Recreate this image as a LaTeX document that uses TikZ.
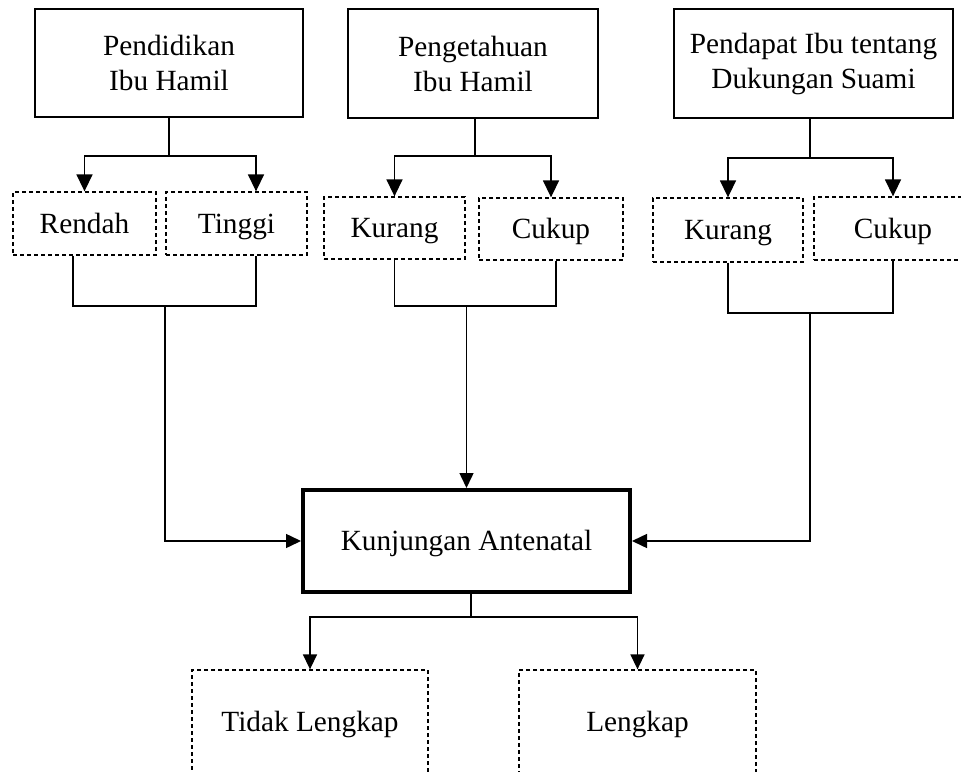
\documentclass[tikz,border=0pt]{standalone}
\usepackage{fontspec}
\setmainfont{Liberation Serif}
\usetikzlibrary{arrows.meta}
\begin{document}
\begin{tikzpicture}[x=1pt,y=-1pt,
  every node/.style={font=\fontsize{29.3}{35}\selectfont, align=center, inner sep=0pt},
  solidbox/.style={draw, line width=1.5pt},
  oneline/.style={text height=19.4pt, text depth=0pt},
  dashbox/.style={draw, oneline, line width=1.3pt, dash pattern=on 4pt off 3pt},
  mainbox/.style={draw, oneline, line width=4pt},
  conn/.style={line width=1.5pt},
  arr/.style={conn, -{Triangle[length=15pt,width=14pt]}},
  bigarr/.style={conn, -{Triangle[length=17pt,width=16pt]}}
]
\useasboundingbox (0,0) rectangle (961,771);
\clip (0,0) rectangle (961,771);

% top boxes
\node[solidbox, minimum width=268pt, minimum height=108pt] (b1) at (169,63) {Pendidikan\\Ibu Hamil};
\node[solidbox, minimum width=250pt, minimum height=109pt] (b2) at (473,63.5) {Pengetahuan\\Ibu Hamil};
\node[solidbox, minimum width=279pt, minimum height=109pt] (b3) at (813.5,63.5) {Pendapat Ibu tentang\\Dukungan Suami};

% category boxes
\node[dashbox, minimum width=143pt, minimum height=63pt] (rendah) at (84.5,223.5) {Rendah};
\node[dashbox, minimum width=141pt, minimum height=63pt] (tinggi) at (236.5,223.5) {Tinggi};
\node[dashbox, minimum width=141pt, minimum height=62pt] (kurang2) at (394.5,228) {Kurang};
\node[dashbox, minimum width=144pt, minimum height=62pt] (cukup2) at (551,229) {Cukup};
\node[dashbox, minimum width=150pt, minimum height=64pt] (kurang3) at (728,230) {Kurang};
\node[dashbox, minimum width=158pt, minimum height=63pt] (cukup3) at (893,228.5) {Cukup};

% central box
\node[mainbox, minimum width=327pt, minimum height=102pt] (kun) at (466.5,541) {Kunjungan Antenatal};

% outcome boxes
\node[dashbox, minimum width=236pt, minimum height=104pt] (tidak) at (310,722) {Tidak Lengkap};
\node[dashbox, minimum width=237pt, minimum height=104pt] (lengkap) at (637.5,722) {Lengkap};

% helper coordinates
\coordinate (m1) at (165,306);
\coordinate (m2) at (0,306);
\coordinate (m3) at (810,313);

% box 1 branches
\draw[bigarr] (b1.south) -- ++(0,38) -| (rendah.north);
\draw[bigarr] (b1.south) -- ++(0,38) -| ([xshift=19.5pt]tinggi.north);
\draw[conn] ([xshift=-11.5pt]rendah.south) |- (m1) -| ([xshift=19.5pt]tinggi.south);
\draw[arr] (m1) |- (kun.west);

% box 2 branches
\draw[bigarr] ([xshift=2pt]b2.south) -- ++(0,37) -| (kurang2.north);
\draw[bigarr] ([xshift=2pt]b2.south) -- ++(0,37) -| (cukup2.north);
\draw[conn] (kurang2.south) |- (kun.north |- m2) -| ([xshift=5pt]cukup2.south);
\draw[arr] (kun.north |- m2) -- (kun.north);

% box 3 branches
\draw[bigarr] ([xshift=-3.5pt]b3.south) -- ++(0,39) -| (kurang3.north);
\draw[bigarr] ([xshift=-3.5pt]b3.south) -- ++(0,39) -| (cukup3.north);
\draw[conn] (kurang3.south) |- (m3) -| (cukup3.south);
\draw[arr] (m3) |- (kun.east);

% outcomes
\draw[arr] ([xshift=4.5pt]kun.south) -- ++(0,23) -| (tidak.north);
\draw[arr] ([xshift=4.5pt]kun.south) -- ++(0,23) -| (lengkap.north);
\end{tikzpicture}
\end{document}
